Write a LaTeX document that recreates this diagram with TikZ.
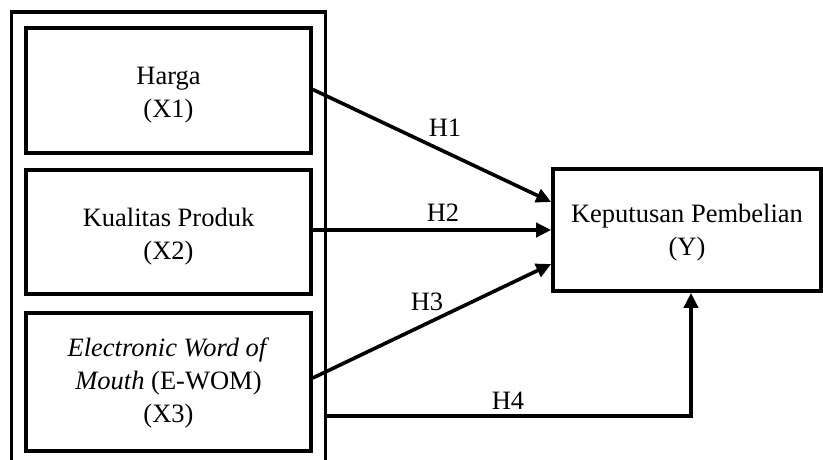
\documentclass[tikz,border=0pt]{standalone}
\usepackage{fontspec}
\setmainfont{Liberation Serif}
\usetikzlibrary{arrows.meta}
\begin{document}
\begin{tikzpicture}[x=1pt,y=-1pt,
  box/.style={draw,line width=3.6pt,minimum width=285pt,inner sep=0pt},
  txt/.style={align=center,inner sep=0pt,font=\fontsize{26.5}{33}\selectfont},
  conn/.style={line width=3.6pt,-{Triangle[length=15pt,width=14pt]}},
  lbl/.style={font=\fontsize{26.5}{32}\selectfont,inner sep=0pt}]
\useasboundingbox (0,0) rectangle (823,459);
\clip (0,0) rectangle (823,459);
\node[draw,line width=3.6pt,minimum width=314pt,minimum height=463pt,inner sep=0pt] (outer) at (168.5,243.5) {};
\node[box,minimum height=125pt,label={[txt,yshift=-5pt]center:{Harga\\(X1)}}] (b1) at (168.5,90.5) {};
\node[box,minimum height=124pt,label={[txt,yshift=-5pt]center:{Kualitas Produk\\(X2)}}] (b2) at (168.5,232) {};
\node[box,minimum height=138pt,label={[txt,yshift=-1pt]center:{\textit{Electronic Word of}\\\textit{Mouth} (E-WOM)\\(X3)}}] (b3) at (168.5,382) {};
\node[box,minimum width=268pt,minimum height=122pt,label={[txt,yshift=-3pt]center:{Keputusan Pembelian\\(Y)}}] (yb) at (687,230) {};
\coordinate (h4s) at (325.5,416);
\draw[conn] ([yshift=1pt]b1.east) -- ([yshift=28pt]yb.west);
\draw[conn] (b2.east |- yb.west) -- (yb.west);
\draw[conn] ([yshift=4pt]b3.east) -- ([yshift=-34pt]yb.west);
\draw[conn] (h4s) -| ([xshift=4pt]yb.south);
\node[lbl] (l1) at (445,128) {H1};
\node[lbl] (l2) at (443,213) {H2};
\node[lbl] (l3) at (427,302) {H3};
\node[lbl] (l4) at (508,401) {H4};
\end{tikzpicture}
\end{document}
